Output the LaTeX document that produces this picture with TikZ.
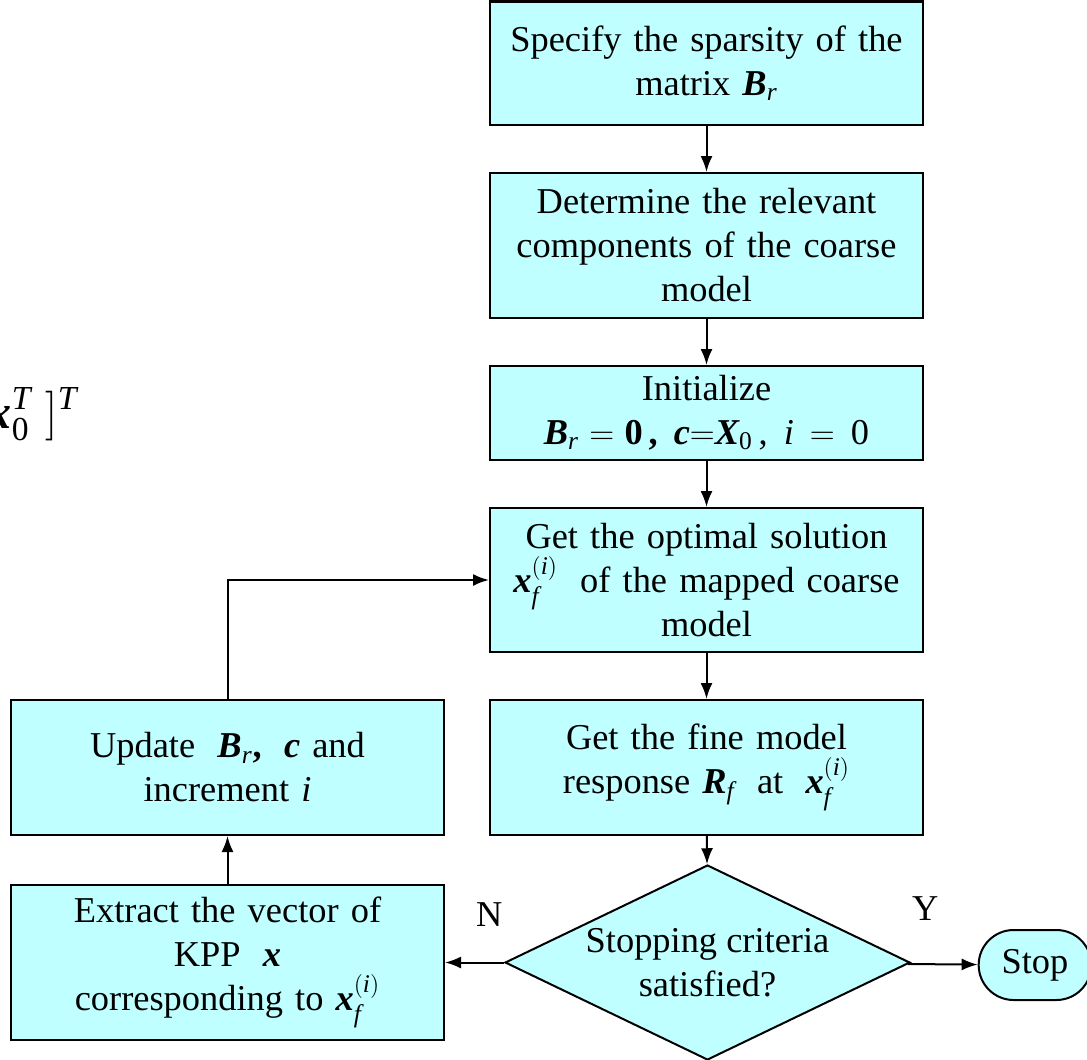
\documentclass[tikz,border=0pt]{standalone}
\usepackage{amsmath}
\usepackage{fontspec}
\setmainfont{Liberation Serif}
\usepackage{tikz}
\usetikzlibrary{arrows.meta, shapes.geometric, shapes.misc}

\definecolor{boxcyan}{RGB}{192,255,255}
\newcommand{\vecb}[1]{\text{\bfseries\itshape #1}}
\newcommand{\ital}[1]{\text{\itshape #1}}

\begin{document}
\begin{tikzpicture}[x=0.5pt, y=-0.5pt,
    every node/.style={font=\fontsize{18.2}{22}\selectfont},
    block/.style={draw, fill=boxcyan, line width=1pt, align=center, inner sep=2pt,
      minimum width=216.5pt, text width=212pt},
    decide/.style={draw, fill=boxcyan, diamond, line width=1pt, align=center, inner sep=0pt,
      minimum width=202.5pt, minimum height=97.5pt, aspect=2.08},
    term/.style={draw, fill=boxcyan, rounded rectangle, line width=1pt,
      minimum width=63pt, minimum height=35pt},
    link/.style={line width=1pt, -{Latex[length=8pt, width=6pt]}}]
  \clip (0,0) rectangle (1087,1060);

  % right column
  \node[block, minimum height=61.5pt] (spec) at (706.5,63)
    {Specify the sparsity of the\\ matrix $\vecb{B}_{\ital{r}}$};
  \node[block, minimum height=72.5pt] (determ) at (706.5,245.5)
    {Determine the relevant\\ components of the coarse\\ model};
  \node[block, minimum height=47pt] (init) at (706.5,413)
    {Initialize\\ $\vecb{B}_{\ital{r}}\!=\!\textbf{0}\,\text{\bfseries,}\;\vecb{c}{=}\vecb{X}_{\text{0}}\,\text{,}\;\ital{i}=\text{0}$};
  \node[block, minimum height=72pt] (optim) at (706.5,580)
    {Get the optimal solution\\ $\vecb{x}_{\ital{f}}^{(\ital{i})}$\; of the mapped coarse\\ model};
  \node[block, minimum height=67.5pt] (fine) at (706.5,767.5)
    {Get the fine model\\ response $\vecb{R}_{\ital{f}}$\; at\; $\vecb{x}_{\ital{f}}^{(\ital{i})}$};
  \node[decide] (crit) at (707.5,962.5) {Stopping criteria\\ satisfied?};
  \node[term] (stop) at (1035,965) {Stop};

  % left column
  \node[block, minimum height=67.5pt] (update) at (227.5,767.5)
    {Update\; $\vecb{B}_{\ital{r}}\text{\bfseries,}$\; $\vecb{c}$ and\\ increment \ital{i}};
  \node[block, minimum height=77.5pt] (extract) at (227.5,962.5)
    {Extract the vector of\\ KPP\; $\vecb{x}$\\ corresponding to $\vecb{x}_{\ital{f}}^{(\ital{i})}$};

  \node[anchor=base east, inner sep=0pt, font=\fontsize{24}{28}\selectfont] (frag) at (78,428)
    {$\vecb{x}_{\text{0}}^{\ital{T}}\;]^{\ital{T}}$};

  \draw[link] (spec) -- (determ);
  \draw[link] (determ) -- (init);
  \draw[link] (init) -- (optim);
  \draw[link] (optim) -- (fine);
  \draw[link] (fine) -- (crit);
  \draw[link] (crit) -- node[pos=0.25, above=18pt] {Y} (stop);
  \draw[link] (crit) -- node[pos=0.25, above=14pt] {N} (extract);
  \draw[link] (extract) -- (update);
  \draw[link] (update.north) |- (optim.west);
\end{tikzpicture}
\end{document}
